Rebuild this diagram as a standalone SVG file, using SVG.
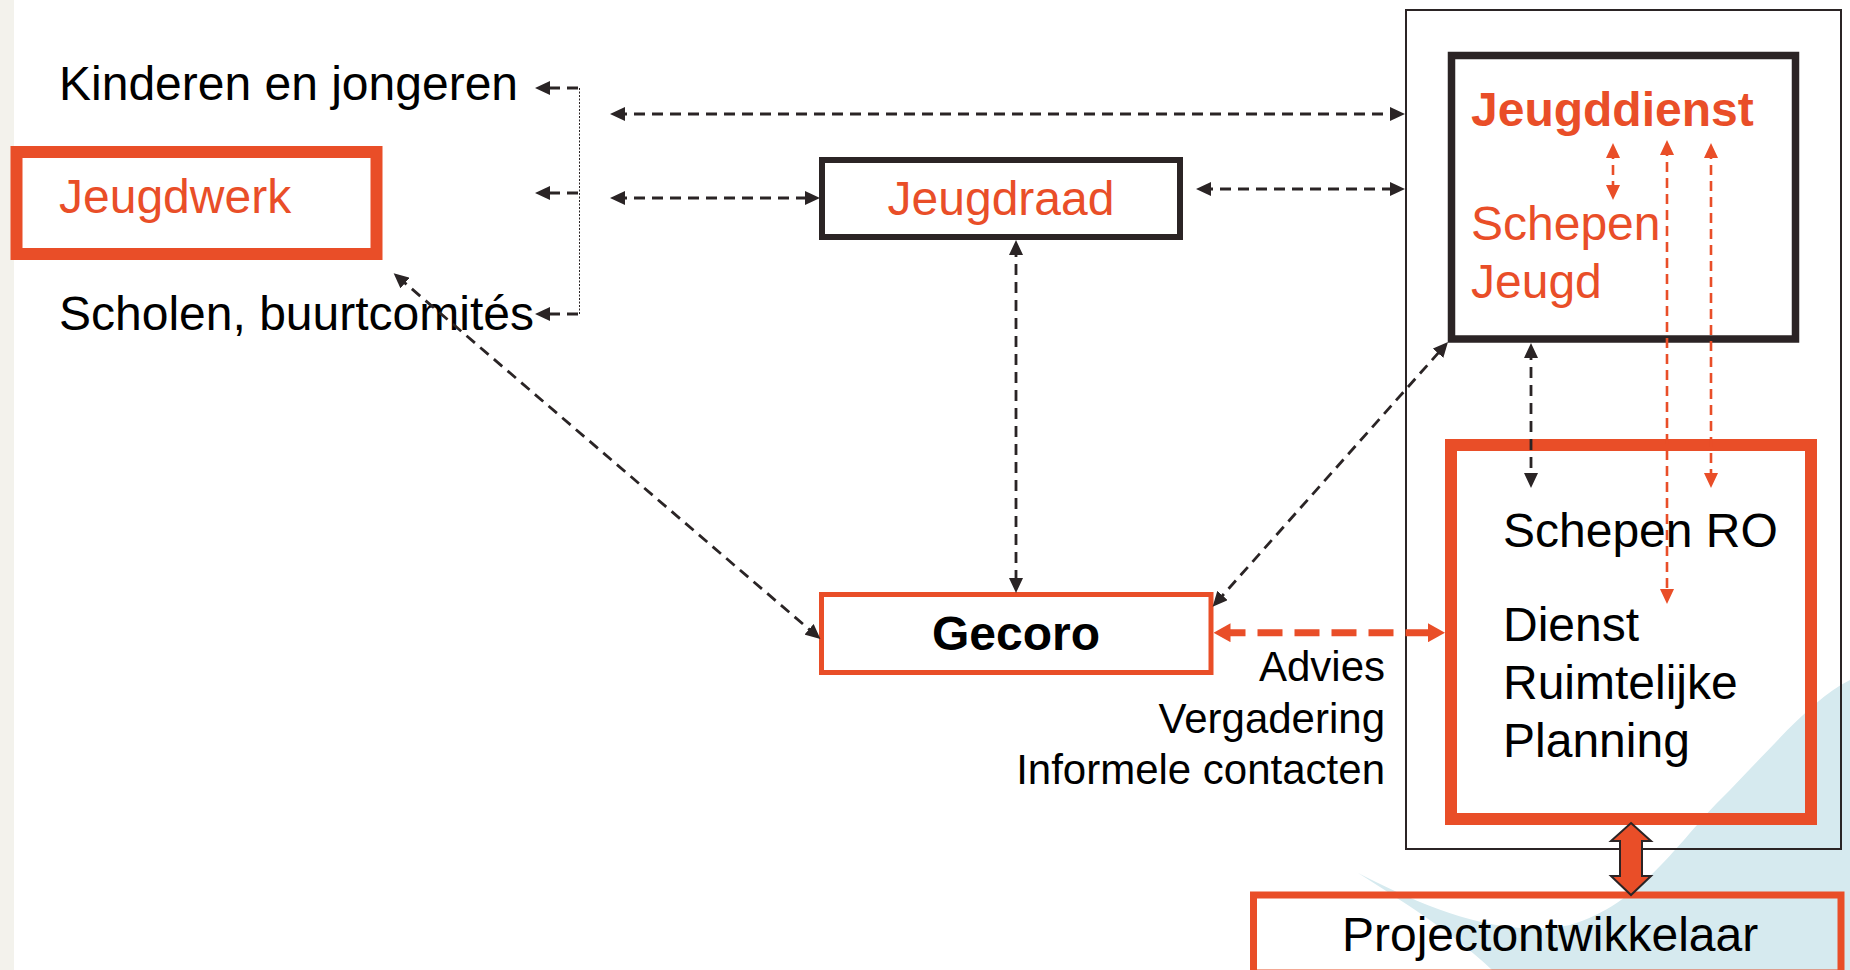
<svg xmlns="http://www.w3.org/2000/svg" width="1850" height="970" viewBox="0 0 1850 970">
<style>
text{font-family:"Liberation Sans",Arial,sans-serif;font-size:48px;fill:#000}
.red{fill:#e94e28}
.b{font-weight:bold}
.lab{font-size:42px;text-anchor:end}
.boxr{fill:none;stroke:#e94e28}
.boxk{fill:none;stroke:#2b2425}
.ck{fill:none;stroke:#2a2425;stroke-width:2.8;stroke-dasharray:11 7}
.cr{fill:none;stroke:#e94e28;stroke-width:2.6;stroke-dasharray:10 6}
</style>
<defs>
<marker id="hb" viewBox="0 0 15 14" refX="9" refY="7" markerWidth="15" markerHeight="14" markerUnits="userSpaceOnUse" orient="auto-start-reverse"><path d="M0,0 L15,7 L0,14 Z" fill="#2a2425"/></marker>
<marker id="hr" viewBox="0 0 15 14" refX="9" refY="7" markerWidth="15" markerHeight="14" markerUnits="userSpaceOnUse" orient="auto-start-reverse"><path d="M0,0 L15,7 L0,14 Z" fill="#e94e28"/></marker>
<marker id="hR" viewBox="0 0 17 19" refX="10" refY="9.5" markerWidth="17" markerHeight="19" markerUnits="userSpaceOnUse" orient="auto-start-reverse"><path d="M0,0 L17,9.5 L0,19 Z" fill="#e94e28"/></marker>
</defs>
<rect x="0" y="0" width="1850" height="970" fill="#fff"/>
<rect x="0" y="0" width="14" height="970" fill="#f3f2ec"/>
<path d="M1358,873 C1420,905 1500,940 1570,925 C1640,905 1680,840 1720,800 C1770,750 1810,700 1850,680 L1850,970 L1492,970 C1450,930 1400,900 1358,873 Z" fill="#d6eaef"/>

<g id="kinderen"><text x="59" y="100">Kinderen en jongeren</text></g>
<g id="jeugdwerk"><rect class="boxr" x="16.5" y="152" width="360" height="102" stroke-width="12"/><text class="red" x="59" y="213">Jeugdwerk</text></g>
<g id="scholen"><text x="59" y="330">Scholen, buurtcomités</text></g>
<g id="jeugdraad"><rect class="boxk" x="822" y="160" width="358" height="77" stroke-width="6"/><text class="red" x="1001" y="215" text-anchor="middle">Jeugdraad</text></g>
<g id="gecoro"><rect class="boxr" x="821.5" y="594.5" width="389.5" height="78" stroke-width="5"/><text class="b" x="1016" y="650" text-anchor="middle">Gecoro</text></g>
<g id="labels"><text class="lab" x="1385" y="681">Advies</text><text class="lab" x="1385" y="733">Vergadering</text><text class="lab" x="1385" y="784">Informele contacten</text></g>
<g id="gemeente"><rect class="boxk" x="1406" y="10" width="435" height="839" stroke-width="2"/></g>
<g id="jeugddienst"><rect class="boxk" x="1451.5" y="55.5" width="344" height="283.5" stroke-width="7.5"/><text class="red b" x="1471" y="126">Jeugddienst</text><text class="red" x="1471" y="240">Schepen</text><text class="red" x="1471" y="298">Jeugd</text></g>
<g id="ruimtelijke-planning"><rect class="boxr" x="1451" y="445" width="360" height="374" stroke-width="12"/><text x="1503" y="547">Schepen RO</text><text x="1503" y="641">Dienst</text><text x="1503" y="699">Ruimtelijke</text><text x="1503" y="757">Planning</text></g>
<g id="projectontwikkelaar"><rect class="boxr" x="1253.5" y="895" width="587.5" height="78" stroke-width="7"/><text x="1342" y="951">Projectontwikkelaar</text></g>

<g id="connectors">
<line x1="579.5" y1="88" x2="579.5" y2="314" stroke="#2a2425" stroke-width="1" stroke-dasharray="2 1.5"/>
<line x1="578" y1="88" x2="541" y2="88" class="ck" stroke-dasharray="9 8" marker-end="url(#hb)"/>
<line x1="578" y1="193" x2="541" y2="193" class="ck" stroke-dasharray="9 8" marker-end="url(#hb)"/>
<line x1="578" y1="314" x2="541" y2="314" class="ck" stroke-dasharray="9 8" marker-end="url(#hb)"/>
<line x1="616" y1="114" x2="1399" y2="114" class="ck" marker-start="url(#hb)" marker-end="url(#hb)"/>
<line x1="616" y1="198" x2="814" y2="198" class="ck" marker-start="url(#hb)" marker-end="url(#hb)"/>
<line x1="1202" y1="189" x2="1399" y2="189" class="ck" marker-start="url(#hb)" marker-end="url(#hb)"/>
<line x1="1016" y1="246" x2="1016" y2="587" class="ck" marker-start="url(#hb)" marker-end="url(#hb)"/>
<line x1="398.2" y1="277.2" x2="815.9" y2="635.1" class="ck" marker-start="url(#hb)" marker-end="url(#hb)"/>
<line x1="1216.6" y1="602.2" x2="1444" y2="346.5" class="ck" marker-start="url(#hb)" marker-end="url(#hb)"/>
<line x1="1531" y1="349" x2="1531" y2="482" class="ck" stroke-dasharray="10 6" marker-start="url(#hb)" marker-end="url(#hb)"/>
<line x1="1220.5" y1="632.7" x2="1438" y2="632.7" fill="none" stroke="#e94e28" stroke-width="7" stroke-dasharray="25 12" marker-start="url(#hR)" marker-end="url(#hR)"/>
<line x1="1613" y1="149" x2="1613" y2="194" class="cr" stroke-dasharray="8 5" marker-start="url(#hr)" marker-end="url(#hr)"/>
<line x1="1667" y1="146" x2="1667" y2="598" class="cr" marker-start="url(#hr)" marker-end="url(#hr)"/>
<line x1="1711" y1="149" x2="1711" y2="482" class="cr" marker-start="url(#hr)" marker-end="url(#hr)"/>
<polygon points="1631,823 1651,841 1642,841 1642,876 1651,876 1631,895 1611,876 1620,876 1620,841 1611,841" fill="#e94e28" stroke="#2b2425" stroke-width="2" stroke-linejoin="miter"/>
</g>
</svg>
